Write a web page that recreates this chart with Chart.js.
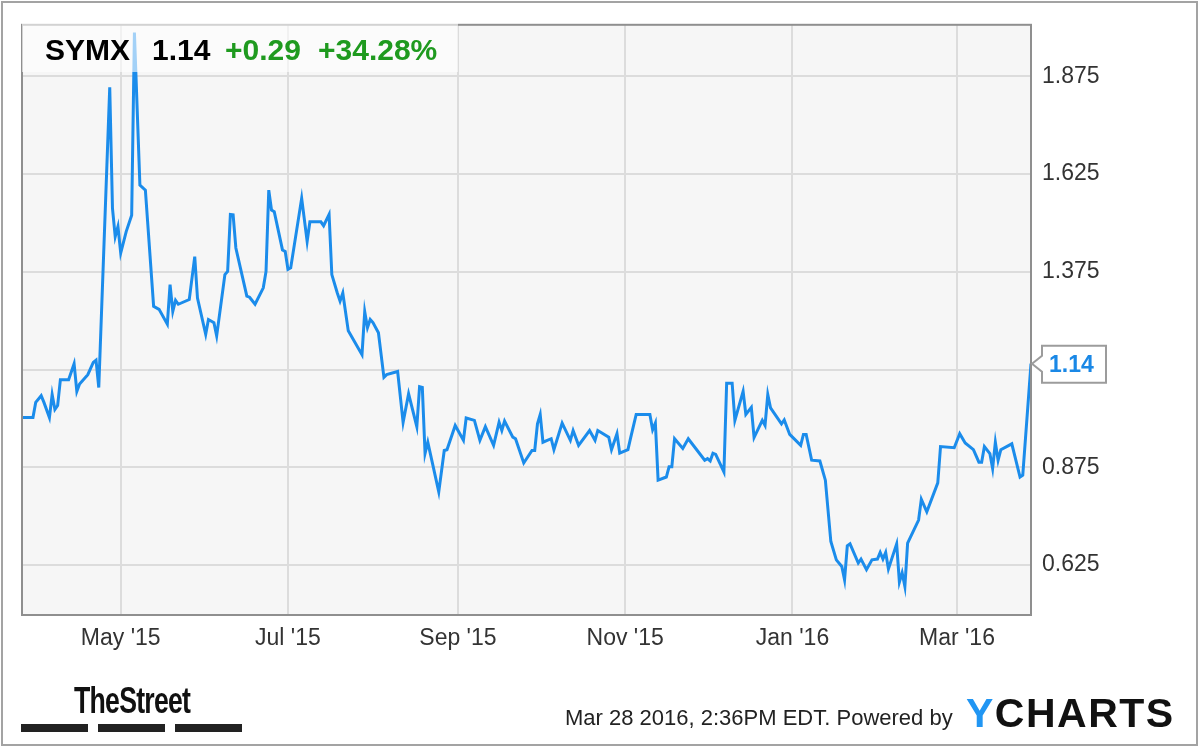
<!DOCTYPE html>
<html>
<head>
<meta charset="utf-8">
<title>SYMX</title>
<script src="https://cdn.jsdelivr.net/npm/chart.js@4.4.1/dist/chart.umd.min.js"></script>
<style>
    html, body { margin: 0; padding: 0; background: #fff; }
    #wrap { position: relative; width: 1200px; height: 747px; overflow: hidden; font-family: "Liberation Sans", Arial, sans-serif; }
    #chart { position: absolute; left: 0; top: 0; }
    #frame { position: absolute; left: 1px; top: 1px; width: 1193px; height: 741px; border: 2px solid #a3a3a3; }
    #header { position: absolute; left: 22px; top: 22px; width: 436px; height: 50px; background: rgba(255, 255, 255, 0.6); }
    .hd { position: absolute; top: 13px; font-size: 30px; line-height: 30px; font-weight: bold; white-space: nowrap; }
    .up { color: #1f9a1f; }
    #lastLabel { position: absolute; left: 1049px; font-size: 23px; line-height: 23px; font-weight: bold; color: #1a88e6; }
    #street { position: absolute; left: 74px; top: 683px; font-size: 36px; line-height: 36px; font-weight: bold; color: #111; letter-spacing: -1px; transform: scaleX(0.74); transform-origin: left top; white-space: nowrap; }
    .bar { position: absolute; top: 724px; height: 8px; background: #222; }
    #stamp { position: absolute; left: 565px; top: 707px; font-size: 22px; line-height: 22px; color: #222; white-space: nowrap; }
    #ycharts { position: absolute; left: 966px; top: 693px; font-size: 41px; line-height: 41px; font-weight: bold; color: #111; letter-spacing: 1.5px; white-space: nowrap; }
    #ycharts span { color: #2196f3; }
</style>
</head>
<body>
<div id="wrap">
    <canvas id="chart" width="1200" height="747"></canvas>
    <div id="header">
        <span class="hd" style="left: 23px;">SYMX</span>
        <span class="hd" style="left: 130px;">1.14</span>
        <span class="hd up" style="left: 203px;">+0.29</span>
        <span class="hd up" style="left: 296px;">+34.28%</span>
    </div>
    <div id="lastLabel">1.14</div>
    <div id="street">TheStreet</div>
    <div class="bar" style="left: 21px; width: 67px;"></div>
    <div class="bar" style="left: 98px; width: 67px;"></div>
    <div class="bar" style="left: 175px; width: 67px;"></div>
    <div id="stamp">Mar 28 2016, 2:36PM EDT. Powered by</div>
    <div id="ycharts"><span>Y</span>CHARTS</div>
    <div id="frame"></div>
</div>
<script>
// Data ---------------------------------------------------------------------------------

// days counted from Mar 26 2015 (left edge of the chart)
const START_DATE = Date.UTC(2015, 2, 26);
const END_DAY = 368;

const dayOffsets = [
    0, 4, 5, 7, 8, 10, 11, 12, 13, 14, 17, 19, 20, 21, 24, 26, 27, 28,
    32, 33, 34, 35, 36, 38, 40, 41, 43, 45, 48, 50, 53, 54, 55, 56, 57,
    61, 63, 64, 67, 68, 70, 71, 74, 75, 76, 77, 78, 82, 83, 85, 88, 89,
    90, 91, 92, 95, 96, 97, 98, 102, 104, 105, 109, 110, 112, 113, 115,
    116, 117, 119, 124, 125, 126, 127, 128, 130, 132, 133, 137, 139, 141,
    144, 145, 146, 147, 148, 152, 154, 155, 158, 161, 162, 165, 167, 169,
    172, 174, 175, 176, 179, 180, 183, 186, 187, 188, 189, 190, 193, 194,
    197, 200, 201, 203, 207, 209, 210, 214, 215, 217, 218, 221, 222, 224,
    229, 230, 231, 232, 235, 236, 237, 238, 241, 243, 249, 250, 251, 252,
    253, 256, 257, 259, 260, 263, 264, 266, 267, 270, 271, 272, 273, 277,
    278, 280, 284, 285, 286, 288, 291, 293, 295, 297, 299, 300, 301, 302,
    305, 306, 308, 310, 312, 313, 314, 315, 316, 319, 320, 321, 322, 323,
    327, 328, 330, 334, 335, 340, 342, 344, 347, 349, 350, 351, 353, 354,
    355, 356, 357, 361, 364, 365, 368
];

const prices = [
    1.002, 1.002, 1.041, 1.058, 1.041, 1.002, 1.061, 1.023, 1.033, 1.099, 1.099, 1.140, 1.069, 1.088, 1.112, 1.143, 1.149, 1.079,
    1.847, 1.537, 1.465, 1.491, 1.423, 1.478, 1.520, 1.987, 1.597, 1.584, 1.287, 1.279, 1.241, 1.342, 1.274, 1.302, 1.292,
    1.304, 1.414, 1.308, 1.215, 1.253, 1.245, 1.211, 1.368, 1.376, 1.522, 1.521, 1.436, 1.313, 1.310, 1.292, 1.334, 1.376,
    1.584, 1.533, 1.529, 1.431, 1.427, 1.381, 1.385, 1.563, 1.453, 1.503, 1.503, 1.493, 1.522, 1.368, 1.321,
    1.300, 1.321, 1.224, 1.163, 1.273, 1.232, 1.253, 1.245, 1.219, 1.105, 1.112, 1.120, 0.990, 1.063,
    0.979, 1.081, 1.079, 0.910, 0.939, 0.812, 0.918, 0.920, 0.982, 0.944, 1.001, 0.995, 0.944, 0.979,
    0.931, 0.990, 0.969, 0.993, 0.952, 0.948, 0.886, 0.918, 0.918, 0.986, 1.010, 0.939, 0.948, 0.920,
    0.988, 0.944, 0.969, 0.931, 0.969, 0.944, 0.969, 0.952, 0.920, 0.961, 0.911, 0.920, 0.951, 1.010,
    1.010, 0.971, 0.988, 0.842, 0.850, 0.876, 0.876, 0.948, 0.923, 0.948, 0.893, 0.897, 0.891, 0.911,
    0.908, 0.863, 1.090, 1.090, 0.995, 1.069, 1.010, 1.028, 0.951, 0.995, 0.982, 1.061, 1.027, 0.986,
    0.996, 0.959, 0.931, 0.959, 0.959, 0.893, 0.891, 0.842, 0.685, 0.638, 0.621, 0.587, 0.674, 0.679,
    0.630, 0.640, 0.613, 0.638, 0.640, 0.657, 0.640, 0.657, 0.615, 0.679, 0.581, 0.605, 0.570, 0.681,
    0.740, 0.793, 0.761, 0.835, 0.928, 0.925, 0.961, 0.937, 0.920, 0.888, 0.888, 0.928, 0.910, 0.872,
    0.939, 0.893, 0.920, 0.935, 0.850, 0.855, 1.140
];

const monthTicks = ['2015-05-01', '2015-07-01', '2015-09-01', '2015-11-01', '2016-01-01', '2016-03-01'];
const monthLabels = ["May '15", "Jul '15", "Sep '15", "Nov '15", "Jan '16", "Mar '16"];

const priceTicks = [0.625, 0.875, 1.125, 1.375, 1.625, 1.875];
const Y_MIN = 0.497;
const Y_MAX = 2.007;

const LAST_PRICE = prices[prices.length - 1];

// Colors ------------------------------------------------------------------------------

const LINE_COLOR = '#1b8ceb';
const GRID_COLOR = '#dcdcdc';
const PLOT_BG = '#f6f6f6';
const PLOT_BORDER = '#8f8f8f';

// Helpers -----------------------------------------------------------------------------

function dayOf(isoDate) {
    return Math.round((Date.parse(isoDate + 'T00:00:00Z') - START_DATE) / 86400000);
}

const monthDays = monthTicks.map(dayOf);

const points = dayOffsets.map(function (d, i) {
    return { x: d, y: prices[i] };
});

// plot background, plot border and the flag on the price axis
const plotFrame = {
    id: 'plotFrame',
    beforeDraw: function (chart) {
        const a = chart.chartArea;
        const ctx = chart.ctx;
        ctx.save();
        ctx.fillStyle = PLOT_BG;
        ctx.fillRect(a.left, a.top, a.right - a.left, a.bottom - a.top);
        ctx.restore();
    },
    afterDraw: function (chart) {
        const a = chart.chartArea;
        const ctx = chart.ctx;
        ctx.save();
        ctx.strokeStyle = PLOT_BORDER;
        ctx.lineWidth = 2;
        ctx.strokeRect(a.left, a.top, a.right - a.left, a.bottom - a.top);

        // last price flag
        const y = chart.scales.y.getPixelForValue(LAST_PRICE);
        const bx = a.right + 11;
        ctx.beginPath();
        ctx.moveTo(a.right + 1, y);
        ctx.lineTo(bx, y - 8);
        ctx.lineTo(bx, y - 18);
        ctx.lineTo(bx + 64, y - 18);
        ctx.lineTo(bx + 64, y + 19);
        ctx.lineTo(bx, y + 19);
        ctx.lineTo(bx, y + 8);
        ctx.closePath();
        ctx.fillStyle = '#fff';
        ctx.fill();
        ctx.strokeStyle = '#9c9c9c';
        ctx.stroke();
        ctx.restore();
    }
};

// Chart -------------------------------------------------------------------------------

const chart = new Chart(document.getElementById('chart').getContext('2d'), {
    type: 'line',
    data: {
        datasets: [{
            label: 'SYMX',
            data: points,
            borderColor: LINE_COLOR,
            borderWidth: 3,
            pointRadius: 0,
            tension: 0,
            fill: false
        }]
    },
    options: {
        responsive: false,
        animation: false,
        devicePixelRatio: 1,
        layout: { padding: { left: 22, top: 22, right: 0, bottom: 0 } },
        plugins: {
            legend: { display: false },
            tooltip: { enabled: false }
        },
        scales: {
            x: {
                type: 'linear',
                min: 0,
                max: END_DAY,
                afterBuildTicks: function (scale) {
                    scale.ticks = monthDays.map(function (d) { return { value: d }; });
                },
                afterFit: function (scale) { scale.height = 132; },
                grid: { color: GRID_COLOR, lineWidth: 2, drawTicks: false },
                border: { display: false },
                ticks: {
                    padding: 10,
                    maxRotation: 0,
                    autoSkip: false,
                    color: '#333',
                    font: { family: '"Liberation Sans", Arial, sans-serif', size: 23 },
                    callback: function (value, index) { return monthLabels[index]; }
                }
            },
            y: {
                position: 'right',
                min: Y_MIN,
                max: Y_MAX,
                afterBuildTicks: function (scale) {
                    scale.ticks = priceTicks.map(function (v) { return { value: v }; });
                },
                afterFit: function (scale) { scale.width = 169; },
                grid: { color: GRID_COLOR, lineWidth: 2, drawTicks: false },
                border: { display: false },
                ticks: {
                    padding: 11,
                    color: '#333',
                    font: { family: '"Liberation Sans", Arial, sans-serif', size: 23 },
                    // 1.125 sits under the last price flag
                    callback: function (value) { return value === 1.125 ? '' : value.toFixed(3); }
                }
            }
        }
    },
    plugins: [plotFrame]
});

const flagY = chart.scales.y.getPixelForValue(LAST_PRICE);
document.getElementById('lastLabel').style.top = Math.round(flagY - 11) + 'px';
</script>
</body>
</html>
